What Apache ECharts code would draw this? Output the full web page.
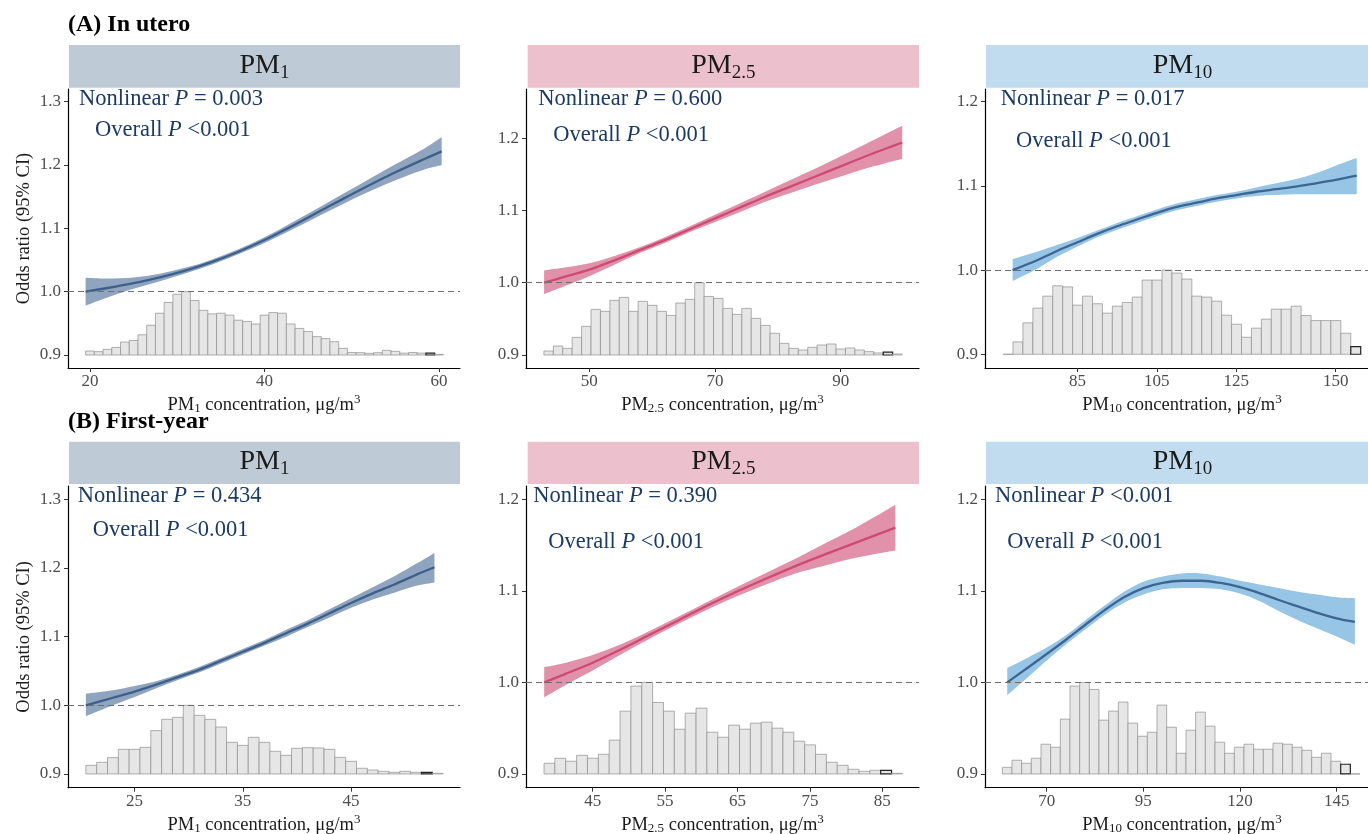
<!DOCTYPE html>
<html><head><meta charset="utf-8">
<script src="https://cdn.jsdelivr.net/npm/echarts@6/dist/echarts.min.js"></script>
<style>html,body{margin:0;padding:0;background:#fff}#c{width:1368px;height:834px}</style>
</head><body><div id="c"></div>
<script>
// ---------------- DATA ----------------
// (A) In utero, PM1
const a1X   = [19.5, 22, 25, 28, 31, 34, 37, 40, 43, 46, 49, 52, 55, 58, 60.3];
const a1Fit = [1.000,1.0058,1.0135,1.0225,1.0335,1.047,1.063,1.0815,1.1025,1.1245,1.1465,1.168,1.1885,1.2075,1.2215];
const a1Lo  = [0.978,0.9908,1.0045,1.0165,1.029,1.043,1.059,1.077,1.097,1.118,1.1385,1.158,1.176,1.1915,1.200];
const a1Hi  = [1.022,1.0208,1.0225,1.0285,1.038,1.051,1.067,1.086,1.108,1.131,1.1545,1.178,1.201,1.2235,1.244];
const a1Hist = [0.063,0.053,0.09,0.12,0.205,0.23,0.32,0.47,0.66,0.83,0.96,1.0,0.86,0.705,0.65,0.66,0.63,0.55,0.53,0.49,0.63,0.67,0.66,0.49,0.42,0.37,0.29,0.26,0.21,0.105,0.04,0.037,0.026,0.037,0.074,0.058,0.03,0.04,0.03,0.03,0.01];
const a1BinStart = 19.5, a1BinWidth = 1.0;
const a1XTicks = [20, 40, 60];
const a1YTicks = [0.9, 1.0, 1.1, 1.2, 1.3];

// (A) In utero, PM2.5
const a2X   = [42.8, 46, 50, 54, 58, 62, 66, 70, 74, 78, 82, 86, 90, 94, 97, 99.8];
const a2Fit = [1.000,1.008,1.018,1.031,1.045,1.059,1.074,1.089,1.104,1.119,1.133,1.147,1.161,1.175,1.185,1.194];
const a2Lo  = [0.984,0.995,1.009,1.025,1.041,1.055,1.070,1.084,1.098,1.112,1.124,1.136,1.147,1.158,1.165,1.171];
const a2Hi  = [1.017,1.021,1.027,1.037,1.049,1.063,1.078,1.094,1.110,1.126,1.142,1.158,1.175,1.192,1.205,1.217];
const a2Hist = [0.055,0.124,0.092,0.244,0.396,0.631,0.604,0.756,0.797,0.604,0.742,0.687,0.604,0.548,0.719,0.77,1.0,0.81,0.783,0.645,0.562,0.645,0.507,0.41,0.3,0.161,0.092,0.069,0.106,0.138,0.152,0.083,0.097,0.069,0.046,0.028,0.041,0.014];
const a2BinStart = 42.77, a2BinWidth = 1.5;
const a2XTicks = [50, 70, 90];
const a2YTicks = [0.9, 1.0, 1.1, 1.2];

// (A) In utero, PM10
const a3X   = [68.7, 75, 80, 85, 90, 95, 100, 105, 110, 115, 120, 125, 130, 135, 140, 145, 150, 155.3];
const a3Fit = [1.000,1.012,1.023,1.033,1.043,1.052,1.060,1.068,1.075,1.080,1.085,1.089,1.093,1.096,1.099,1.103,1.107,1.112];
const a3Lo  = [0.987,1.002,1.016,1.028,1.039,1.048,1.056,1.064,1.071,1.076,1.081,1.085,1.088,1.089,1.090,1.090,1.090,1.090];
const a3Hi  = [1.013,1.022,1.030,1.038,1.047,1.056,1.064,1.072,1.079,1.084,1.089,1.093,1.098,1.103,1.108,1.115,1.124,1.133];
const a3Hist = [0.0,0.147,0.373,0.548,0.69,0.813,0.8,0.583,0.69,0.6,0.488,0.571,0.615,0.679,0.881,0.881,1.0,0.964,0.893,0.69,0.679,0.631,0.464,0.357,0.202,0.31,0.417,0.536,0.536,0.571,0.46,0.4,0.4,0.4,0.25,0.09];
const a3BinStart = 66.3, a3BinWidth = 2.5;
const a3XTicks = [85, 105, 125, 150];
const a3YTicks = [0.9, 1.0, 1.1, 1.2];

// (B) First-year, PM1
const b1X   = [20.5, 23, 25, 27, 29, 31, 33, 35, 37, 39, 41, 43, 45, 47, 49, 51, 52.7];
const b1Fit = [1.000,1.011,1.020,1.030,1.041,1.052,1.065,1.078,1.091,1.105,1.119,1.134,1.149,1.163,1.176,1.190,1.201];
const b1Lo  = [0.984,1.000,1.012,1.025,1.037,1.048,1.061,1.074,1.087,1.100,1.114,1.128,1.142,1.154,1.164,1.174,1.179];
const b1Hi  = [1.017,1.022,1.028,1.035,1.045,1.056,1.069,1.082,1.095,1.110,1.124,1.140,1.156,1.172,1.188,1.206,1.222];
const b1Hist = [0.126,0.17,0.238,0.359,0.359,0.388,0.631,0.796,0.825,1.0,0.854,0.796,0.684,0.461,0.417,0.534,0.461,0.33,0.272,0.374,0.383,0.379,0.359,0.243,0.184,0.083,0.058,0.039,0.024,0.039,0.024,0.024,0.01];
const b1BinStart = 20.5, b1BinWidth = 1.0;
const b1XTicks = [25, 35, 45];
const b1YTicks = [0.9, 1.0, 1.1, 1.2, 1.3];

// (B) First-year, PM2.5
const b2X   = [38.3, 41, 45, 49, 53, 57, 61, 65, 69, 73, 77, 81, 85, 86.8];
const b2Fit = [1.000,1.0085,1.0215,1.0365,1.0525,1.0685,1.0845,1.0995,1.1135,1.127,1.1395,1.1515,1.1635,1.169];
const b2Lo  = [0.9835,0.996,1.013,1.031,1.0483,1.0645,1.0803,1.0945,1.1073,1.119,1.1275,1.1355,1.1415,1.144];
const b2Hi  = [1.0168,1.021,1.030,1.042,1.0567,1.0725,1.0887,1.1045,1.1197,1.135,1.1515,1.1675,1.1855,1.194];
const b2Hist = [0.117,0.172,0.139,0.204,0.172,0.215,0.369,0.686,0.96,1.0,0.781,0.686,0.489,0.664,0.719,0.456,0.401,0.533,0.489,0.555,0.566,0.5,0.456,0.358,0.318,0.215,0.128,0.095,0.051,0.029,0.04,0.04,0.007];
const b2BinStart = 38.28, b2BinWidth = 1.5;
const b2XTicks = [45, 55, 65, 75, 85];
const b2YTicks = [0.9, 1.0, 1.1, 1.2];

// (B) First-year, PM10
const b3X   = [59.8, 65, 70, 75, 80, 85, 90, 95, 100, 105, 110, 115, 120, 125, 130, 135, 140, 145, 149.7];
const b3Fit = [1.000,1.0157,1.031,1.0466,1.063,1.079,1.093,1.103,1.1086,1.111,1.111,1.1086,1.104,1.0976,1.090,1.083,1.076,1.070,1.066];
const b3Lo  = [0.986,1.005,1.024,1.0416,1.058,1.074,1.087,1.096,1.1016,1.103,1.103,1.1016,1.097,1.089,1.078,1.068,1.059,1.050,1.041];
const b3Hi  = [1.0157,1.0267,1.038,1.0516,1.068,1.084,1.099,1.110,1.1156,1.119,1.119,1.1156,1.111,1.107,1.103,1.099,1.096,1.093,1.092];
const b3Hist = [0.073,0.15,0.117,0.172,0.325,0.292,0.599,0.96,1.0,0.923,0.588,0.686,0.785,0.555,0.412,0.456,0.752,0.511,0.226,0.478,0.675,0.522,0.347,0.226,0.292,0.325,0.27,0.27,0.336,0.325,0.292,0.259,0.182,0.226,0.139,0.106,0.0];
const b3BinStart = 58.53, b3BinWidth = 2.5;
const b3XTicks = [70, 95, 120, 145];
const b3YTicks = [0.9, 1.0, 1.1, 1.2];

const pSubs = ['1', '2.5', '10'];
const nonlinearP = ['= 0.003', '= 0.600', '= 0.017', '= 0.434', '= 0.390', '<0.001'];
const overallP   = ['<0.001', '<0.001', '<0.001', '<0.001', '<0.001', '<0.001'];
const rowTitles  = ['(A) In utero', '(B) First-year'];
const yTitle = 'Odds ratio (95% CI)';

// ---------------- LAYOUT / STYLE ----------------
const FONT = '"Liberation Serif", "DejaVu Serif", serif';
const NAVY = '#1c3b63';
const COLS = [
  {band: '#8fa5bf', line: '#3e5f8a', strip: '#bfcad7'},
  {band: '#e291ab', line: '#cd4a72', strip: '#ecc0cd'},
  {band: '#97c5e6', line: '#3d6592', strip: '#c0dcee'}
];
const colLeft = [68, 526, 985], colWidth = [392, 393, 394];
const stripX = [[69, 460], [527.7, 919], [986, 1379]];
const rowTop = [89, 486], rowH = [279, 301.7];
const stripY = [[45, 87.7], [441.7, 484]];

const panels = [
  {r:0,c:0,x:a1X,fit:a1Fit,lo:a1Lo,hi:a1Hi,hist:a1Hist,bs:a1BinStart,bw:a1BinWidth,xt:a1XTicks,yt:a1YTicks,xMin:17.48,xMax:62.4,yMin:0.8795,yMax:1.32,dark:39,ann:[[79,98.8],[95,129.7]]},
  {r:0,c:1,x:a2X,fit:a2Fit,lo:a2Lo,hi:a2Hi,hist:a2Hist,bs:a2BinStart,bw:a2BinWidth,xt:a2XTicks,yt:a2YTicks,xMin:39.92,xMax:102.47,yMin:0.882,yMax:1.268,dark:36,ann:[[538.3,98.8],[553.3,135]]},
  {r:0,c:2,x:a3X,fit:a3Fit,lo:a3Lo,hi:a3Hi,hist:a3Hist,bs:a3BinStart,bw:a3BinWidth,xt:a3XTicks,yt:a3YTicks,xMin:61.75,xMax:160.9,yMin:0.8837,yMax:1.215,dark:35,ann:[[1000.7,98.8],[1016,141]]},
  {r:1,c:0,x:b1X,fit:b1Fit,lo:b1Lo,hi:b1Hi,hist:b1Hist,bs:b1BinStart,bw:b1BinWidth,xt:b1XTicks,yt:b1YTicks,xMin:18.85,xMax:55.06,yMin:0.880,yMax:1.3194,dark:31,ann:[[77.7,496],[92.7,530]]},
  {r:1,c:1,x:b2X,fit:b2Fit,lo:b2Lo,hi:b2Hi,hist:b2Hist,bs:b2BinStart,bw:b2BinWidth,xt:b2XTicks,yt:b2YTicks,xMin:35.79,xMax:90.07,yMin:0.885,yMax:1.2145,dark:31,ann:[[533.3,496],[548.3,541.7]]},
  {r:1,c:2,x:b3X,fit:b3Fit,lo:b3Lo,hi:b3Hi,hist:b3Hist,bs:b3BinStart,bw:b3BinWidth,xt:b3XTicks,yt:b3YTicks,xMin:54.05,xMax:155.94,yMin:0.885,yMax:1.2145,dark:35,ann:[[995,496],[1007.3,541.7]]}
];

// smooth (Catmull-Rom) path segment through pixel points
function crSegments(pts) {
  let d = '';
  for (let k = 0; k < pts.length - 1; k++) {
    const p0 = pts[k - 1] || pts[k], p1 = pts[k], p2 = pts[k + 1], p3 = pts[k + 2] || pts[k + 1];
    const c1 = [p1[0] + (p2[0] - p0[0]) / 6, p1[1] + (p2[1] - p0[1]) / 6];
    const c2 = [p2[0] - (p3[0] - p1[0]) / 6, p2[1] - (p3[1] - p1[1]) / 6];
    d += ' C' + c1[0] + ' ' + c1[1] + ' ' + c2[0] + ' ' + c2[1] + ' ' + p2[0] + ' ' + p2[1];
  }
  return d;
}

const grid = [], xAxis = [], yAxis = [], series = [], graphic = [];

panels.forEach((p, i) => {
  const col = COLS[p.c];
  grid.push({left: colLeft[p.c], top: rowTop[p.r], width: colWidth[p.c], height: rowH[p.r], containLabel: false, outerBoundsMode: 'none'});
  const axisCommon = {
    type: 'value', gridIndex: i, splitLine: {show: false},
    axisLine: {show: true, onZero: false, lineStyle: {color: '#000', width: 1.2}},
  };
  xAxis.push(Object.assign({}, axisCommon, {
    min: p.xMin, max: p.xMax,
    axisTick: {show: true, customValues: p.xt, length: 4, lineStyle: {color: '#333'}},
    axisLabel: {customValues: p.xt, color: '#4d4d4d', fontFamily: FONT, fontSize: 17, margin: 5}
  }));
  yAxis.push(Object.assign({}, axisCommon, {
    min: p.yMin, max: p.yMax,
    axisTick: {show: true, customValues: p.yt, length: 4, lineStyle: {color: '#333'}},
    axisLabel: {customValues: p.yt, color: '#4d4d4d', fontFamily: FONT, fontSize: 17, margin: 7, formatter: v => v.toFixed(1)}
  }));

  // histogram
  const histData = p.hist.map((h, k) => [p.bs + k * p.bw, p.bs + (k + 1) * p.bw, 0.9 + 0.1 * h]);
  series.push({
    type: 'custom', xAxisIndex: i, yAxisIndex: i, z: 1, silent: true,
    data: histData, encode: {x: [0, 1], y: 2},
    renderItem: (params, api) => {
      const a = api.coord([api.value(0), 0.9]);
      const b = api.coord([api.value(1), api.value(2)]);
      const dark = params.dataIndex === p.dark;
      return {type: 'rect', shape: {x: a[0], y: b[1], width: b[0] - a[0], height: a[1] - b[1]},
        style: {fill: '#e6e6e6', stroke: dark ? '#222' : '#8f8f8f', lineWidth: dark ? 1.2 : 0.7}};
    }
  });
  // confidence band (smooth closed path through library-mapped points)
  const bandData = p.x.map((v, k) => [v, p.lo[k], p.hi[k]]);
  series.push({
    type: 'custom', xAxisIndex: i, yAxisIndex: i, z: 2, silent: true,
    data: bandData, encode: {x: 0, y: [1, 2]},
    renderItem: (params, api) => {
      if (params.dataIndex !== 0) return null;
      const up = [], dn = [];
      for (let k = 0; k < bandData.length; k++) up.push(api.coord([bandData[k][0], bandData[k][2]]));
      for (let k = bandData.length - 1; k >= 0; k--) dn.push(api.coord([bandData[k][0], bandData[k][1]]));
      const d = 'M' + up[0][0] + ' ' + up[0][1] + crSegments(up) + ' L' + dn[0][0] + ' ' + dn[0][1] + crSegments(dn) + ' Z';
      return {type: 'path', shape: {pathData: d}, style: {fill: col.band}};
    }
  });
  // fitted line + reference line
  series.push({
    type: 'line', xAxisIndex: i, yAxisIndex: i, z: 3, silent: true,
    data: p.x.map((v, k) => [v, p.fit[k]]),
    smooth: 0.33, showSymbol: false, symbol: 'none',
    lineStyle: {color: col.line, width: 2.3},
    markLine: {silent: true, symbol: ['none', 'none'], label: {show: false},
      lineStyle: {type: [6, 4], color: '#6e6e6e', width: 1}, data: [{yAxis: 1}]}
  });

  // strip
  const sx = stripX[p.c], sy = stripY[p.r];
  graphic.push({type: 'rect', silent: true, shape: {x: sx[0], y: sy[0], width: sx[1] - sx[0], height: sy[1] - sy[0]}, style: {fill: col.strip}});
  graphic.push({type: 'text', silent: true, x: (sx[0] + sx[1]) / 2, y: (sy[0] + sy[1]) / 2 - 1,
    style: {text: '{m|PM}{s|' + pSubs[p.c] + '}', textAlign: 'center', textVerticalAlign: 'middle', align: 'center', verticalAlign: 'middle',
      fill: '#1a1a1a', fontFamily: FONT, fontSize: 28,
      rich: {m: {fontFamily: FONT, fontSize: 28, fill: '#1a1a1a'}, s: {fontFamily: FONT, fontSize: 19, fill: '#1a1a1a', padding: [15, 0, 0, 0]}}}});

  // annotations
  const annRich = {n: {fontFamily: FONT, fontSize: 22.5, fill: NAVY}, i: {fontFamily: FONT, fontSize: 22.5, fill: NAVY, fontStyle: 'italic'}};
  graphic.push({type: 'text', silent: true, x: p.ann[0][0], y: p.ann[0][1],
    style: {text: '{n|Nonlinear }{i|P}{n| ' + nonlinearP[i] + '}', textAlign: 'left', textVerticalAlign: 'middle', align: 'left', verticalAlign: 'middle', fill: NAVY, fontFamily: FONT, fontSize: 22.5, rich: annRich}});
  graphic.push({type: 'text', silent: true, x: p.ann[1][0], y: p.ann[1][1],
    style: {text: '{n|Overall }{i|P}{n| ' + overallP[i] + '}', textAlign: 'left', textVerticalAlign: 'middle', align: 'left', verticalAlign: 'middle', fill: NAVY, fontFamily: FONT, fontSize: 22.5, rich: annRich}});

  // x axis name
  graphic.push({type: 'text', silent: true, x: colLeft[p.c] + colWidth[p.c] / 2, y: p.r === 0 ? 405 : 825,
    style: {text: '{m|PM}{s|' + pSubs[p.c] + '}{m| concentration, μg/m}{u|3}', textAlign: 'center', textVerticalAlign: 'middle', align: 'center', verticalAlign: 'middle',
      fill: '#1a1a1a', fontFamily: FONT, fontSize: 18.5,
      rich: {m: {fontFamily: FONT, fontSize: 18.5, fill: '#1a1a1a'}, s: {fontFamily: FONT, fontSize: 13, fill: '#1a1a1a', padding: [8, 0, 0, 0]}, u: {fontFamily: FONT, fontSize: 13, fill: '#1a1a1a', padding: [0, 0, 10, 0]}}}});
});

// y titles & row titles
[0, 1].forEach(r => {
  graphic.push({type: 'text', silent: true, x: 24, y: rowTop[r] + rowH[r] / 2, rotation: Math.PI / 2,
    style: {text: yTitle, textAlign: 'center', textVerticalAlign: 'middle', align: 'center', verticalAlign: 'middle', fill: '#1a1a1a', fontFamily: FONT, fontSize: 18.5}});
  graphic.push({type: 'text', silent: true, x: 68, y: r === 0 ? 24.5 : 421.5,
    style: {text: rowTitles[r], textAlign: 'left', textVerticalAlign: 'middle', align: 'left', verticalAlign: 'middle', fill: '#000', fontFamily: FONT, fontSize: 24, fontWeight: 'bold'}});
});

const chart = echarts.init(document.getElementById('c'), null, {renderer: 'canvas'});
chart.setOption({animation: false, backgroundColor: '#fff', grid, xAxis, yAxis, series, graphic});
</script></body></html>
